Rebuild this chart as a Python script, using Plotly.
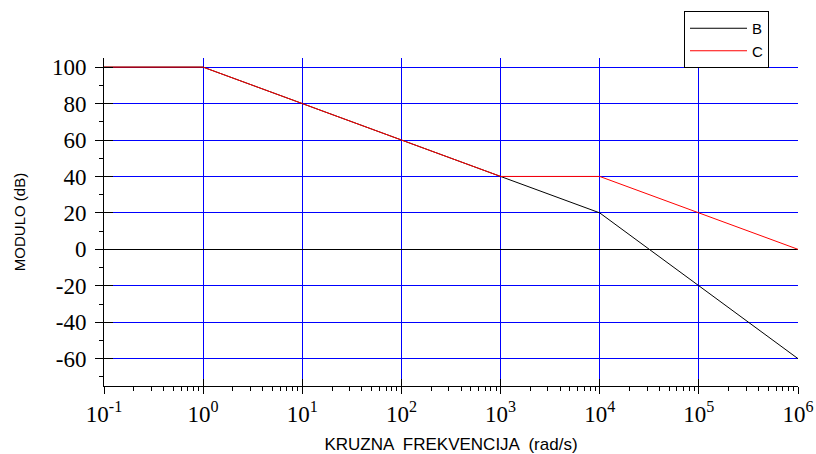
import plotly.graph_objects as go

freq = [0.1, 1, 10, 100, 1000, 1e4, 1e5, 1e6]
mod_b = [100, 100, 80, 60, 40, 20, -20, -60]
mod_c = [100, 100, 80, 60, 40, 40, 20, 0]

x_tickvals = [0.1, 1, 10, 100, 1000, 1e4, 1e5, 1e6]
x_ticktext = ["10<sup>-1</sup>", "10<sup>0</sup>", "10<sup>1</sup>", "10<sup>2</sup>",
              "10<sup>3</sup>", "10<sup>4</sup>", "10<sup>5</sup>", "10<sup>6</sup>"]
y_tickvals = [-60, -40, -20, 0, 20, 40, 60, 80, 100]
y_ticktext = ["-60", "-40", "-20", "0", "20", "40", "60", "80", "100"]

fig = go.Figure()
fig.add_trace(go.Scatter(x=freq, y=mod_b, mode="lines", name="B",
                         line=dict(color="black", width=1)))
fig.add_trace(go.Scatter(x=freq, y=mod_c, mode="lines", name="C",
                         line=dict(color="red", width=1)))
# invisible trace to carry the overlay axes (inner half of crossing ticks)
fig.add_trace(go.Scatter(x=freq, y=mod_b, mode="lines", xaxis="x2", yaxis="y2",
                         line=dict(color="rgba(0,0,0,0)", width=0),
                         showlegend=False, hoverinfo="skip"))

serif = "Liberation Serif, Times New Roman, serif"
sans = "Liberation Sans, Arial, sans-serif"
L, R, T, B = 104, 18, 58, 68
pw = 816 - L - R
ph = 454 - T - B
fig.update_layout(
    width=816, height=454,
    margin=dict(l=L, r=R, t=T, b=B, autoexpand=False),
    paper_bgcolor="white", plot_bgcolor="white",
    showlegend=True,
    legend=dict(x=(684 - L) / pw, y=(T - 11) / ph + 1, xanchor="left", yanchor="top",
                bgcolor="white", bordercolor="black", borderwidth=1,
                itemwidth=57, tracegroupgap=0,
                font=dict(family=sans, size=15, color="black")),
    xaxis=dict(type="log", range=[-1, 6], tickvals=x_tickvals, ticktext=x_ticktext,
               automargin=False,
               showgrid=True, gridcolor="#0000ff", gridwidth=1,
               showline=True, linecolor="black", linewidth=1,
               ticks="outside", ticklen=7, tickcolor="black",
               tickfont=dict(family=serif, size=23, color="black"),
               minor=dict(ticks="outside", ticklen=4, tickcolor="black", showgrid=False,
                          dtick="D1"),
               title=dict(text="KRUZNA  FREKVENCIJA  (rad/s)", standoff=12,
                          font=dict(family=sans, size=17, color="black")),
               zeroline=False),
    yaxis=dict(range=[-75, 105], tickvals=y_tickvals, ticktext=y_ticktext,
               automargin=False,
               showgrid=True, gridcolor="#0000ff", gridwidth=1,
               showline=True, linecolor="black", linewidth=1,
               ticks="outside", ticklen=8, tickcolor="black",
               tickfont=dict(family=serif, size=23, color="black"),
               ticklabelstandoff=4,
               minor=dict(ticks="outside", ticklen=4, tickcolor="black", showgrid=False,
                          dtick=10),
               zeroline=True, zerolinecolor="black", zerolinewidth=1,
               title=dict(text="MODULO (dB)", standoff=22,
                          font=dict(family="Liberation Sans Narrow, Arial Narrow, " + sans,
                                    size=15, color="black"))),
    xaxis2=dict(type="log", range=[-1, 6], tickvals=x_tickvals, overlaying="x",
                anchor="y2", side="bottom", automargin=False,
                showgrid=False, zeroline=False, showline=False, showticklabels=False,
                ticks="inside", ticklen=7, tickcolor="black"),
    yaxis2=dict(range=[-75, 105], tickvals=y_tickvals, overlaying="y",
                anchor="x2", side="left", automargin=False,
                showgrid=False, zeroline=False, showline=False, showticklabels=False,
                ticks="inside", ticklen=9, tickcolor="black"),
)
fig.write_html("out.html")
